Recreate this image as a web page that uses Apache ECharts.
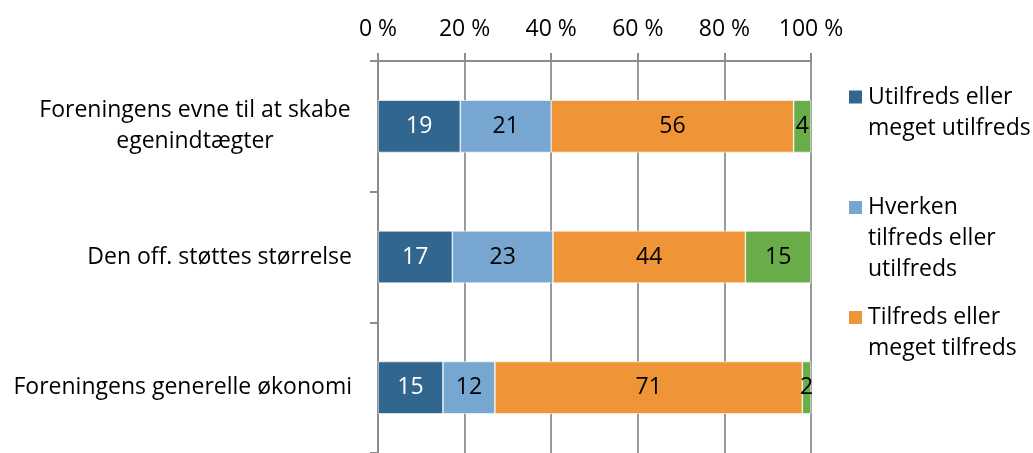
<!DOCTYPE html>
<html>
<head>
<meta charset="utf-8">
<script src="https://cdn.jsdelivr.net/npm/echarts@6/dist/echarts.min.js"></script>
<style>
  html, body { margin: 0; padding: 0; background: #fff; }
  #main { width: 1033px; height: 453px; }
</style>
</head>
<body>
<div id="main"></div>
<script>
// data
var categories = ['Foreningens evne til at skabe\negenindtægter', 'Den off. støttes størrelse', 'Foreningens generelle økonomi'];
var seriesNames = ['Utilfreds eller\nmeget utilfreds', 'Hverken\ntilfreds eller\nutilfreds', 'Tilfreds eller\nmeget tilfreds', 'Ved ikke'];
var utilfreds = [19, 17, 15];
var hverken = [21, 23, 12];
var tilfreds = [56, 44, 71];
var vedIkke = [4, 15, 2];
var xTicks = [0, 20, 40, 60, 80, 100];

var FONT = 'Open Sans';
var FS = 23;
var colors = ['#31678e', '#77a6d0', '#ef9537', '#69ad4a'];
var labelColors = ['#fff', '#000', '#000', '#000'];

var myChart = echarts.init(document.getElementById('main'));

// 100% stack, like excel: normalize each row by its sum
var rows = [utilfreds, hverken, tilfreds, vedIkke];
var sums = categories.map(function (c, i) {
    return rows.reduce(function (s, r) { return s + r[i]; }, 0);
});

// width of first line so the two-line label is centred like the original
var ctx = document.createElement('canvas').getContext('2d');
ctx.font = FS + 'px ' + FONT;
var firstLineW = Math.ceil(ctx.measureText(categories[0].split('\n')[0]).width) + 2;

var series = rows.map(function (r, k) {
    return {
        name: seriesNames[k],
        type: 'bar',
        stack: 'total',
        barWidth: '40%',
        data: r.map(function (v, i) { return { value: v / sums[i] * 100, raw: v }; }),
        itemStyle: { color: colors[k], borderColor: '#fff', borderWidth: 0.6 },
        label: {
            show: true,
            position: 'inside',
            fontFamily: FONT,
            fontSize: FS,
            color: labelColors[k],
            formatter: function (p) { return p.data.raw; }
        }
    };
});

// one legend per item so the icon sits on the first text line
function oneLegend(name, iconY) {
    var n = name.split('\n').length;
    return {
        data: [name],
        orient: 'vertical',
        left: 847,
        top: iconY - (2 * n - 1) * 31 / 2,
        padding: 0,
        itemWidth: 15,
        itemHeight: 15,
        itemGap: 0,
        icon: 'rect',
        selectedMode: false,
        formatter: function (nm) {
            return new Array(n).join('\n') + nm;
        },
        textStyle: {
            fontFamily: FONT,
            fontSize: FS,
            color: '#000',
            lineHeight: 31
        }
    };
}

var option = {
    animation: false,
    grid: { left: 378, right: 222, top: 61, height: 396, containLabel: false },
    legend: [
        oneLegend(seriesNames[0], 97),
        oneLegend(seriesNames[1], 207.5),
        oneLegend(seriesNames[2], 317.5)
    ],
    xAxis: {
        type: 'value',
        position: 'top',
        min: xTicks[0],
        max: xTicks[xTicks.length - 1],
        interval: 20,
        axisLine: { show: true, lineStyle: { color: '#8c8c8c', width: 2 } },
        axisTick: { show: true, length: 8, lineStyle: { color: '#8c8c8c', width: 2 } },
        splitLine: { show: true, lineStyle: { color: '#9a9a9a', width: 2 } },
        axisLabel: {
            margin: 20,
            fontFamily: FONT,
            fontSize: FS,
            color: '#000',
            formatter: '{value} %'
        }
    },
    yAxis: {
        type: 'category',
        inverse: true,
        data: categories,
        axisLine: { show: true, lineStyle: { color: '#8c8c8c', width: 2 } },
        axisTick: { show: true, length: 8, lineStyle: { color: '#8c8c8c', width: 2 } },
        axisLabel: {
            margin: 26,
            fontFamily: FONT,
            fontSize: FS,
            color: '#000',
            lineHeight: 31,
            formatter: function (v) {
                var lines = v.split('\n');
                if (lines.length === 1) return v;
                return lines.map(function (l) { return '{c|' + l + '}'; }).join('\n');
            },
            rich: {
                c: { width: firstLineW, align: 'center', fontFamily: FONT, fontSize: FS, lineHeight: 31, color: '#000' }
            }
        }
    },
    series: series
};

myChart.setOption(option);
</script>
</body>
</html>
